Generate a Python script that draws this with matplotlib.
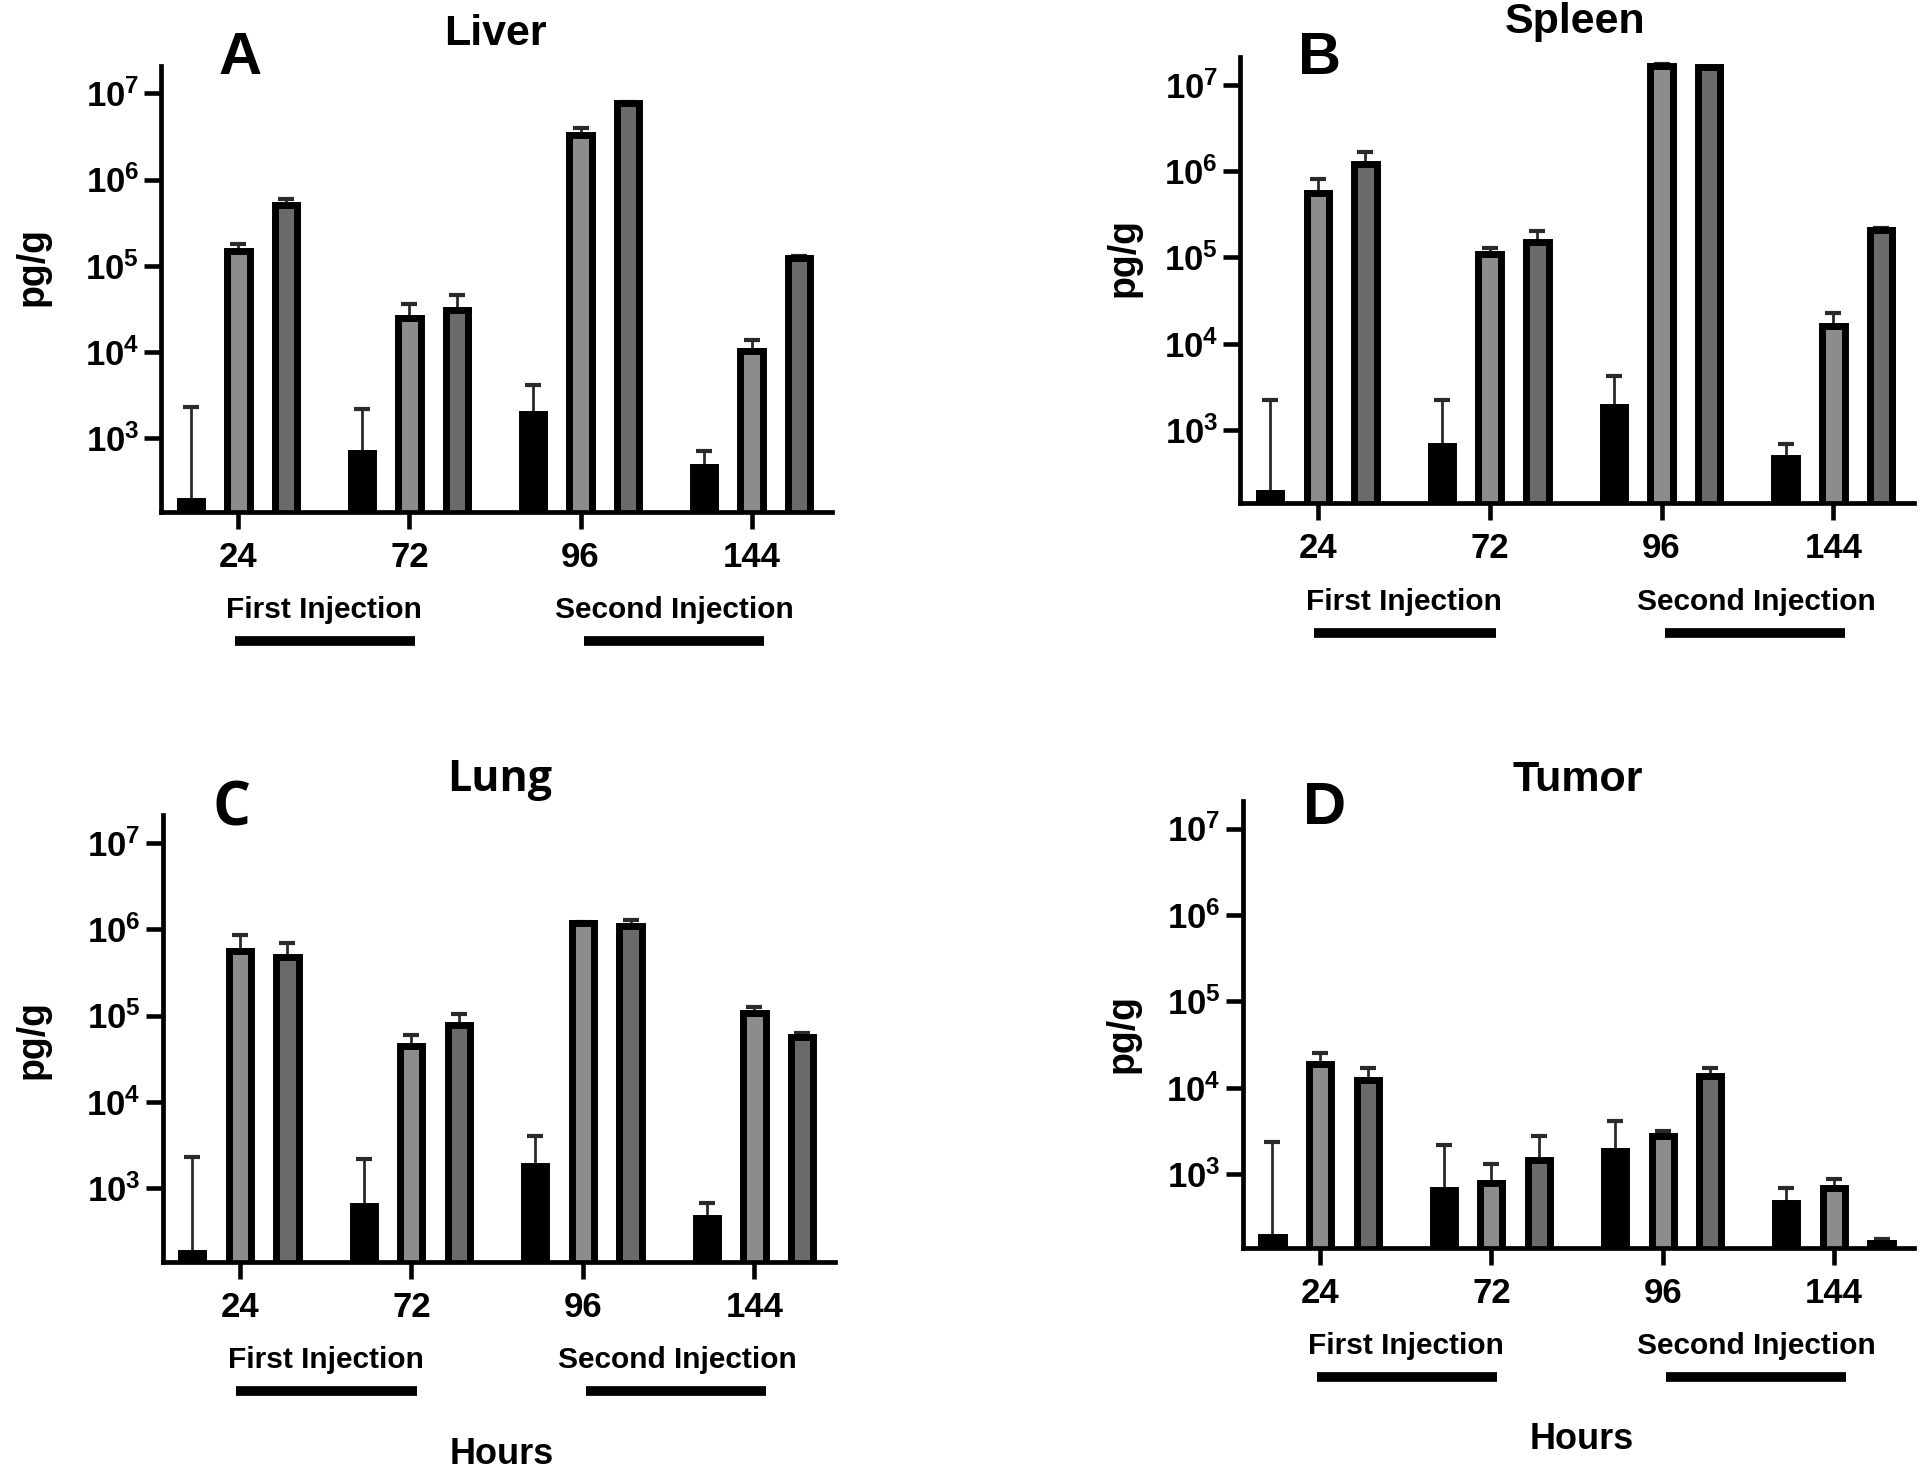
import numpy as np
import matplotlib.pyplot as plt
from matplotlib import transforms
from matplotlib.ticker import NullLocator

plt.rcParams['font.family'] = ['Liberation Sans', 'DejaVu Sans']
plt.rcParams['font.weight'] = 'bold'
plt.rcParams['mathtext.fontset'] = 'custom'
plt.rcParams['mathtext.rm'] = 'Liberation Sans:bold'
plt.rcParams['mathtext.bf'] = 'Liberation Sans:bold'
plt.rcParams['mathtext.it'] = 'Liberation Sans:bold'

hours = ["24", "72", "96", "144"]

# valeurs (pg/g) + erreur haute
liver_black = [190, 680, 1900, 470]
liver_black_err = [2110, 1490, 2300, 240]
liver_gray = [1.5e5, 2.5e4, 3.3e6, 1.02e4]
liver_gray_err = [3.0e4, 1.1e4, 6.0e5, 3.6e3]
liver_dark = [5.1e5, 3.1e4, 7.6e6, 1.24e5]
liver_dark_err = [9.0e4, 1.5e4, 4.0e5, 6.0e3]

spleen_black = [188, 660, 1850, 470]
spleen_black_err = [2060, 1540, 2350, 220]
spleen_gray = [5.5e5, 1.08e5, 1.64e7, 1.6e4]
spleen_gray_err = [2.5e5, 1.9e4, 1.0e6, 6.8e3]
spleen_dark = [1.22e6, 1.5e5, 1.6e7, 2.06e5]
spleen_dark_err = [4.6e5, 5.0e4, 2.0e5, 1.4e4]

lung_black = [180, 630, 1820, 450]
lung_black_err = [2100, 1570, 2180, 220]
lung_gray = [5.6e5, 4.4e4, 1.19e6, 1.06e5]
lung_gray_err = [3.0e5, 1.6e4, 3.0e4, 2.0e4]
lung_dark = [4.8e5, 7.8e4, 1.08e6, 5.6e4]
lung_dark_err = [2.1e5, 2.6e4, 1.8e5, 6.0e3]

tumor_black = [188, 650, 1870, 470]
tumor_black_err = [2150, 1550, 2230, 220]
tumor_gray = [1.87e4, 800, 2800, 690]
tumor_gray_err = [6.3e3, 530, 400, 200]
tumor_dark = [1.24e4, 1470, 1.37e4, 160]
tumor_dark_err = [4.6e3, 1310, 3.3e3, 20]

couleurs = ["#000000", "#8c8c8c", "#6a6a6a"]
decalages = [-0.278, 0.0, 0.278]

panneaux = [
    # titre, lettre, donnees, position axes, pos titre, pos lettre, pos ylabel, hours
    ("Liver", "A", [(liver_black, liver_black_err), (liver_gray, liver_gray_err), (liver_dark, liver_dark_err)],
     [0.0841, 0.6518, 0.3492, 0.3036], (0.2583, 0.9769), (0.125, 0.9600), (-0.192, 0.55), False),
    ("Spleen", "B", [(spleen_black, spleen_black_err), (spleen_gray, spleen_gray_err), (spleen_dark, spleen_dark_err)],
     [0.6460, 0.6576, 0.3510, 0.3036], (0.8203, 0.9850), (0.687, 0.9600), (-0.174, 0.55), False),
    ("Lung", "C", [(lung_black, lung_black_err), (lung_gray, lung_gray_err), (lung_dark, lung_dark_err)],
     [0.0847, 0.1416, 0.3502, 0.3040], (0.2600, 0.4694), (0.1206, 0.4490), (-0.193, 0.497), True),
    ("Tumor", "D", [(tumor_black, tumor_black_err), (tumor_gray, tumor_gray_err), (tumor_dark, tumor_dark_err)],
     [0.6474, 0.1512, 0.3497, 0.3040], (0.8219, 0.4694), (0.690, 0.4500), (-0.179, 0.48), True),
]

fig = plt.figure(figsize=(19.2, 14.7), dpi=100)
x = np.arange(len(hours))

for titre, lettre, series, pos, pos_titre, pos_lettre, pos_ylab, avec_hours in panneaux:
    ax = fig.add_axes(pos)
    for (vals, errs), couleur, dec in zip(series, couleurs, decalages):
        ax.bar(x + dec, vals, width=0.13, color=couleur, edgecolor="black",
               linewidth=5, zorder=2)
        ax.errorbar(x + dec, vals, yerr=[np.zeros(len(vals)), errs], fmt="none",
                    ecolor="#2a2a2a", elinewidth=2, capsize=6, capthick=3, zorder=1)

    ax.set_yscale("log")
    ax.set_ylim(10 ** 2.15, 10 ** 7.32)
    ax.set_xlim(-0.45, 3.47)
    ax.set_yticks([1e3, 1e4, 1e5, 1e6, 1e7])
    ax.set_yticklabels([r"$\mathbf{10^{%d}}$" % k for k in range(3, 8)])
    ax.yaxis.set_minor_locator(NullLocator())
    ax.set_xticks(x)
    ax.set_xticklabels(hours, fontweight="bold")
    ax.tick_params(axis="both", width=3.3, length=12, labelsize=25)
    ax.tick_params(axis="x", pad=9)
    ax.tick_params(axis="y", pad=4)
    for cote in ["top", "right"]:
        ax.spines[cote].set_visible(False)
    for cote in ["left", "bottom"]:
        ax.spines[cote].set_linewidth(3.4)

    ax.text(pos_ylab[0], pos_ylab[1], "pg/g", transform=ax.transAxes, rotation=90,
            ha="center", va="center", fontsize=27, fontweight="bold")

    famille = ["Open Sans", "DejaVu Sans"] if lettre == "C" else ["Liberation Sans", "DejaVu Sans"]
    fig.text(pos_titre[0], pos_titre[1], titre, ha="center", va="center",
             fontsize=31, fontweight="bold", family=famille)
    fig.text(pos_lettre[0], pos_lettre[1], lettre, ha="center", va="center",
             fontsize=43, fontweight="bold", family=famille)

    # injections sous l'axe
    trans = transforms.blended_transform_factory(ax.transData, ax.transAxes)
    ax.text(0.5, -0.22, "First Injection", transform=trans, ha="center", va="center",
            fontsize=21.5, fontweight="bold")
    ax.text(2.55, -0.22, "Second Injection", transform=trans, ha="center", va="center",
            fontsize=21.5, fontweight="bold")
    ax.plot([-0.02, 1.035], [-0.29, -0.29], transform=trans, color="black", lw=7,
            clip_on=False, solid_capstyle="butt")
    ax.plot([2.02, 3.07], [-0.29, -0.29], transform=trans, color="black", lw=7,
            clip_on=False, solid_capstyle="butt")
    if avec_hours:
        ax.text(1.53, -0.43, "Hours", transform=trans, ha="center", va="center",
                fontsize=26, fontweight="bold")

plt.savefig("out.png", dpi=100)
